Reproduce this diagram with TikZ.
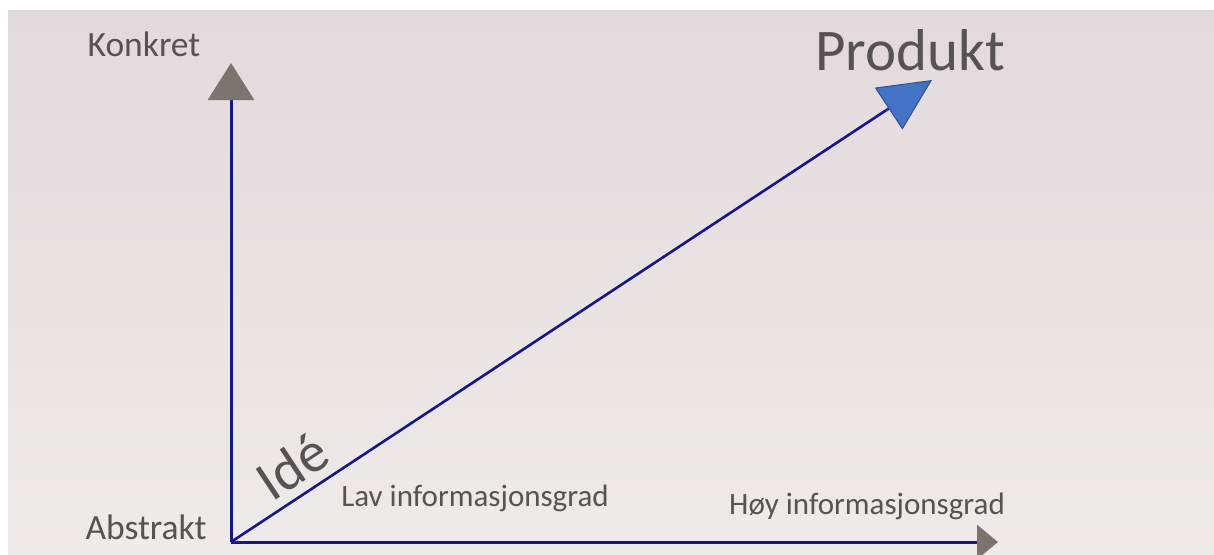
\documentclass[tikz,border=0pt]{standalone}
\usepackage{fontspec}
\setmainfont{Carlito}
\usetikzlibrary{arrows.meta}
\definecolor{axisblue}{HTML}{16168A}
\definecolor{tipgray}{HTML}{7A756E}
\definecolor{tipblue}{HTML}{4472C4}
\definecolor{tipedge}{HTML}{2F528F}
\definecolor{txt}{HTML}{555353}
\definecolor{bgtop}{HTML}{E2D9DC}
\definecolor{bgbot}{HTML}{EFEBEA}
\tikzset{
  axisline/.style={draw=axisblue, line width=3pt},
  lbl/.style={text=txt, inner sep=0pt, font=\fontsize{35.5}{40}\selectfont},
  smalllbl/.style={lbl, font=\fontsize{31}{36}\selectfont},
}
\begin{document}
\begin{tikzpicture}[x=1pt,y=-1pt]
\useasboundingbox (0,0) rectangle (1214,554);
\fill[white] (0,0) rectangle (1214,554);
\shade[top color=bgtop, bottom color=bgbot] (8,10) rectangle (1214,554);
\coordinate (O) at (231,542);
\coordinate (K) at (231,63);
\coordinate (H) at (998,542);
\coordinate (P) at (932,80);
\draw[axisline, -{Triangle[width=46pt,length=37pt,fill=tipgray,color=tipgray]}] (O) -- (K);
\draw[axisline, -{Triangle[width=34pt,length=21pt,fill=tipgray,color=tipgray]}] (O) -- (H);
\draw[axisline, line width=2.6pt, -{Triangle[width=50pt,length=52pt,fill=tipblue,color=tipedge,line width=1pt]}] (O) -- (P);
\node[lbl] (konkret) at (144,44) {Konkret};
\node[lbl] (abstrakt) at (146,527) {Abstrakt};
\node[smalllbl] (lav) at (475,498) {Lav informasjonsgrad};
\node[smalllbl] (hoy) at (867,506) {Høy informasjonsgrad};
\node[lbl, font=\fontsize{59}{66}\selectfont] (produkt) at (910,50) {Produkt};
\node[lbl, font=\fontsize{57}{64}\selectfont, rotate=33.5] (ide) at (292,466) {Idé};
\end{tikzpicture}
\end{document}
